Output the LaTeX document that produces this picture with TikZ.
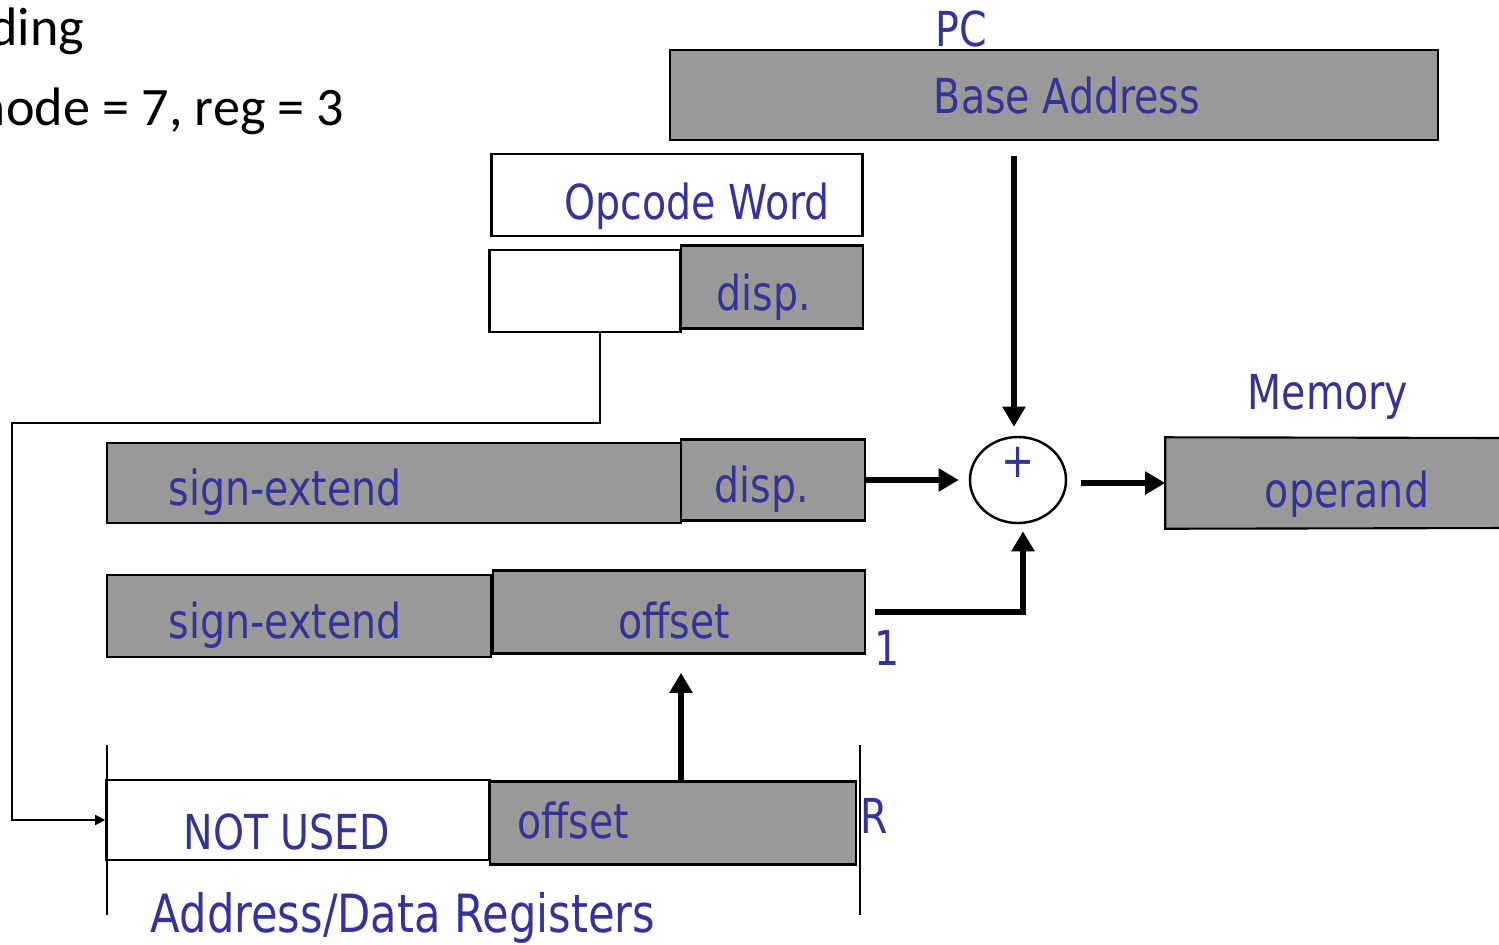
\documentclass[tikz,border=0pt]{standalone}
\definecolor{main}{RGB}{51,51,153}
\definecolor{boxgray}{RGB}{153,153,153}
\usepackage{fontspec}
\newfontfamily\regfont[FakeStretch=0.82]{DejaVu Sans}
\newfontfamily\slidefont{Carlito}
\usepackage{tikz}
\usetikzlibrary{
	arrows.meta,
	positioning,
	shapes.geometric,
	calc
}
\tikzset{
  % arrow
	cstra/.style      ={-{Triangle[length=0.1cm,width=0.1cm]}, line width=0.6pt}, % thin ra
	cstnra/.style     ={-{Triangle[length=0.2cm,width=0.22cm]}, line width=1.5pt}, % thick ra
	cstline/.style    ={line width=0.6pt},
  % node
	cstbox/.style     ={fill=boxgray,draw=black,line width=0.7pt,inner sep=0pt},
	cstboxe/.style    ={fill=white,draw=black,line width=0.7pt,inner sep=0pt},
	csttext/.style    ={text=main,font=\regfont\fontsize{13.7}{16}\selectfont,inner sep=0pt},
	cstslide/.style   ={text=black,font=\slidefont\fontsize{15.4}{18}\selectfont,inner sep=0pt}
}
\begin{document}
\begin{tikzpicture}[x=0.01cm,y=-0.01cm]
	\useasboundingbox (0,0) rectangle (1499,944);
	% slide text
	\node[cstslide,anchor=base east] (title) at (85,45) {ding};
	\node[cstslide,anchor=base east] (mode) at (345,125) {mode = 7, reg = 3};
	% PC
	\node[csttext] (pc) at (961,29) {PC};
	\node[cstbox,minimum width=7.68cm,minimum height=0.9cm] (base) at (1054,95) {};
	\node[csttext] at (1067,96) {Base Address};
	% opcode and extension word
	\node[cstboxe,minimum width=3.71cm,minimum height=0.82cm] (opw) at (677,195) {};
	\node[csttext] at (697,206) {Opcode Word};
	\node[cstboxe,minimum width=1.91cm,minimum height=0.82cm] (extw) at (585,291) {};
	\node[cstbox,minimum width=1.82cm,minimum height=0.83cm] (extd) at (772,287) {};
	\node[csttext] at (764,297) {disp.};
	% sign-extended displacement
	\node[cstbox,minimum width=5.74cm,minimum height=0.8cm] (sxa) at (394,483) {};
	\node[csttext] at (285,492) {sign-extend};
	\node[cstbox,minimum width=1.84cm,minimum height=0.81cm] (dispa) at (773,480) {};
	\node[csttext] at (762,489) {disp.};
	% sign-extended offset
	\node[cstbox,minimum width=3.84cm,minimum height=0.82cm] (sxb) at (299,616) {};
	\node[csttext] at (285,625) {sign-extend};
	\node[cstbox,minimum width=3.72cm,minimum height=0.83cm] (offb) at (679,612) {};
	\node[csttext] at (674,621) {offset};
	\node[csttext] (one) at (887,648) {1};
	% adder
	\node[ellipse,draw=black,line width=0.7pt,fill=white,minimum width=0.96cm,minimum height=0.86cm] (add) at (1018,480) {};
	\node[csttext] (plus) at (1018,462) {+};
	% memory
	\node[csttext] (memlab) at (1328,397) {Memory};
	\node[fill=boxgray,minimum width=3.4cm,minimum height=0.9cm,inner sep=0pt] (mem) at (1336,483) {};
	\draw[cstline] (1510,438) -- (mem.north west) -- (mem.south west) -- (1510,528);
	\node[csttext] at (1347,494) {operand};
	% registers
	\draw[cstline] (107,745) -- (107,915);
	\draw[cstline] (860,745) -- (860,915);
	\node[cstboxe,minimum width=3.83cm,minimum height=0.8cm] (nu) at (298,820) {};
	\node[csttext] at (287,832) {NOT USED};
	\node[cstbox,minimum width=3.66cm,minimum height=0.83cm] (offc) at (673,823) {};
	\node[csttext] at (573,821) {offset};
	\node[csttext] (rlab) at (874,816) {R};
	\node[csttext,font=\regfont\fontsize{15}{18}\selectfont] (regs) at (403,918) {Address/Data Registers};
	% connectors
	\draw[cstra] ($(extw.south)+(15,0)$) |- (12,423) |- (nu.west);
	\draw[cstnra,shorten <=0.15cm,shorten >=0.09cm] (base.south -| 1014,0) -- (add.north -| 1014,0);
	\draw[cstnra,shorten >=0.1cm] (dispa.east) -- (add.west);
	\draw[cstnra,shorten <=0.14cm] (add.east |- mem.west) -- (mem.west);
	\draw[cstnra,shorten >=0.07cm] ($(offb.east)+(9,0)$) -| ($(add.south)+(5,0)$);
	\draw[cstnra,shorten >=0.18cm] ($(offc.north)+(8,0)$) -- ($(offb.south)+(2,0)$);
\end{tikzpicture}
\end{document}
